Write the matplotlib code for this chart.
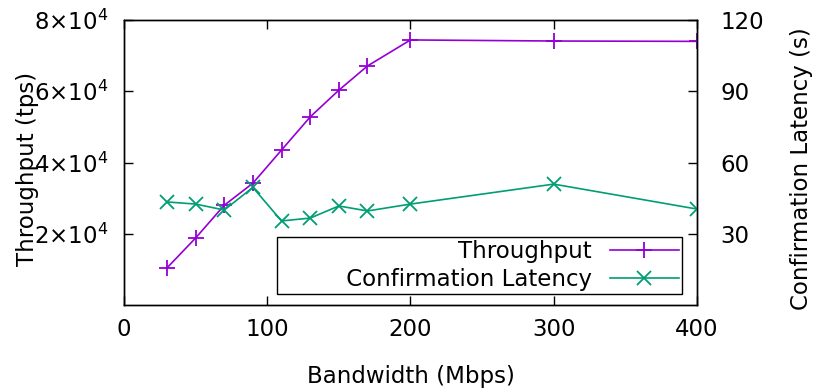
import matplotlib
matplotlib.use("Agg")
import matplotlib.pyplot as plt
from matplotlib.ticker import FuncFormatter

plt.rcParams["font.family"] = ["DejaVu Sans"]
plt.rcParams["mathtext.fontset"] = "dejavusans"
plt.rcParams["font.size"] = 16.5

bandwidth = [30, 50, 70, 90, 110, 130, 150, 170, 200, 300, 400]
throughput = [10400, 18800, 28000, 34200, 43500, 52800, 60300, 67100, 74400, 74100, 74000]
latency = [43.4, 42.5, 40.0, 49.5, 35.4, 36.6, 41.7, 39.6, 42.5, 50.9, 40.4]

x_ticks = [0, 100, 200, 300, 400]
tput_ticks = [20000, 40000, 60000, 80000]
lat_ticks = [30, 60, 90, 120]

purple = "#9400D3"
green = "#009E73"

fig = plt.figure(figsize=(8.15, 3.92), dpi=100)
ax = fig.add_axes([0.1521, 0.2219, 0.7031, 0.7271])
ax2 = ax.twinx()

l1, = ax.plot(bandwidth, throughput, color=purple, lw=1.2, marker="+",
              markersize=11, markeredgewidth=1.3, label="Throughput")
l2, = ax2.plot(bandwidth, latency, color=green, lw=1.2, marker="x",
               markersize=10, markeredgewidth=1.3, label="Confirmation Latency")

ax.set_xlim(0, 400)
ax.set_ylim(0, 80000)
ax2.set_ylim(0, 120)
ax.set_xticks(x_ticks)
ax.set_yticks(tput_ticks)
ax2.set_yticks(lat_ticks)
ax.yaxis.set_major_formatter(
    FuncFormatter(lambda v, _: r"$\mathregular{%d{\times}10^{4}}$" % round(v / 10000)))

for a in (ax, ax2):
    for s in a.spines.values():
        s.set_linewidth(1.0)
ax.tick_params(axis="x", direction="in", length=6.5, width=1.0, top=True, pad=9)
ax.tick_params(axis="y", direction="in", length=6.5, width=1.0, pad=11)
ax2.tick_params(axis="y", direction="in", length=6.5, width=1.0, pad=17)

ax.set_xlabel("Bandwidth (Mbps)")
ax.xaxis.set_label_coords(0.5, -0.212)
ax.set_ylabel("Throughput (tps)")
ax.yaxis.set_label_coords(-0.148, 0.477)
ax2.set_ylabel("Confirmation Latency (s)")
ax2.yaxis.set_label_coords(1.162, 0.48)

# gnuplot-style key: labels right-aligned, sample lines on the right
leg = ax2.legend([l1, l2], ["Throughput", "         Confirmation Latency"],
                 loc="lower right", bbox_to_anchor=(0.974, 0.0386),
                 markerfirst=False, fancybox=False, framealpha=1,
                 edgecolor="black", borderpad=0.15, labelspacing=0.2,
                 handlelength=3.0, handletextpad=0.8, borderaxespad=0)
leg.get_frame().set_linewidth(1.0)

fig.savefig("out.png", dpi=100)
